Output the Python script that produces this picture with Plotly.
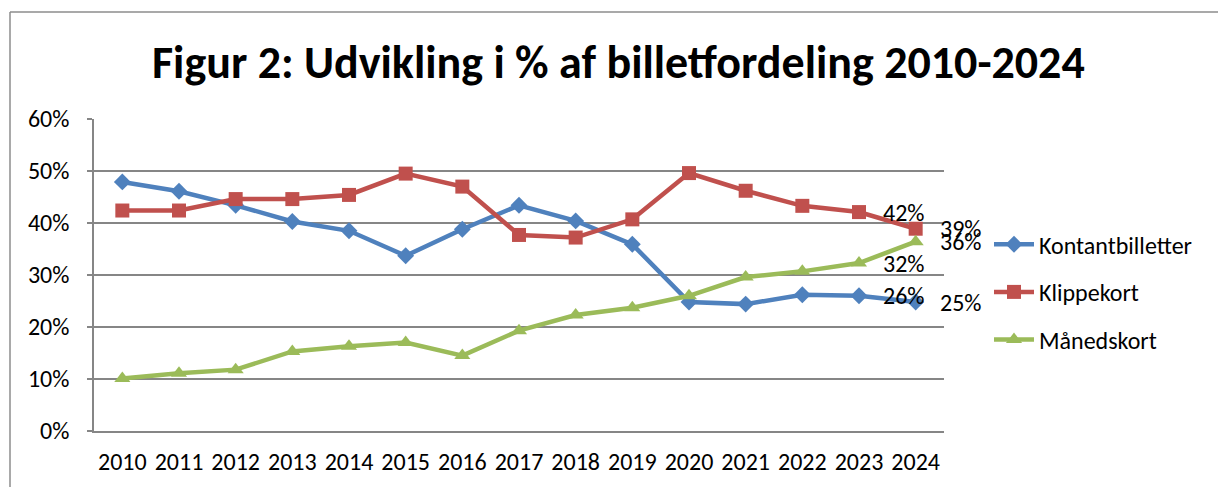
import plotly.graph_objects as go

years = [str(y) for y in range(2010, 2025)]
kontant = [47.9, 46.1, 43.4, 40.3, 38.5, 33.7, 38.8, 43.4, 40.4, 35.9, 24.8, 24.4, 26.2, 26.0, 24.8]
klippe = [42.4, 42.4, 44.6, 44.6, 45.4, 49.5, 47.0, 37.7, 37.2, 40.7, 49.6, 46.2, 43.3, 42.1, 38.9]
maaned = [10.1, 11.1, 11.8, 15.3, 16.3, 17.0, 14.5, 19.3, 22.3, 23.7, 26.0, 29.6, 30.7, 32.3, 36.4]
labels_kontant = ["26%", "25%"]
labels_klippe = ["42%", "39%"]
labels_maaned = ["32%", "36%"]
yticks = [0, 10, 20, 30, 40, 50, 60]
ytick_text = ["0%", "10%", "20%", "30%", "40%", "50%", "60%"]

FONT = "Carlito, Calibri, Lato, sans-serif"
series = [
    ("Kontantbilletter", kontant, "#4F81BD", "diamond", 13, labels_kontant),
    ("Klippekort", klippe, "#C0504D", "square", 14, labels_klippe),
    ("Månedskort", maaned, "#9BBB59", "triangle-up", 14, labels_maaned),
]

fig = go.Figure()
annotations = []
for i, (name, vals, color, sym, msize, labs) in enumerate(series):
    fig.add_trace(go.Scatter(
        x=years, y=vals, name=name, mode="lines+markers",
        line=dict(color=color, width=4.5),
        marker=dict(symbol=sym, size=msize, color=color),
        legendgroup=f"g{i}",
    ))
    for k in range(len(years) - 2, len(years)):
        annotations.append(dict(
            x=k, y=vals[k], text=labs[k - (len(years) - 2)], showarrow=False,
            xanchor="left", yanchor="middle", xshift=22,
            font=dict(family=FONT, size=24, color="#000000"),
        ))

annotations.append(dict(
    text="<b>Figur 2: Udvikling i % af billetfordeling 2010-2024</b>",
    xref="paper", yref="paper", x=(618 - 94) / 850, y=(430.7 - 62) / 311.7,
    xanchor="center", yanchor="middle", showarrow=False,
    font=dict(family=FONT, size=46, color="#000000"),
))

fig.update_layout(
    width=1218, height=487,
    margin=dict(l=94, r=274, t=119, b=56, autoexpand=False),
    paper_bgcolor="white", plot_bgcolor="white",
    font=dict(family=FONT, size=24, color="#000000"),
    annotations=annotations,
    showlegend=True,
    legend=dict(
        x=(989 - 94) / 850, y=(430.7 - 222) / 311.7, xanchor="left", yanchor="top",
        font=dict(family=FONT, size=24, color="#000000"),
        tracegroupgap=13.5, itemwidth=40, bgcolor="rgba(0,0,0,0)",
    ),
    shapes=[
        dict(type="line", xref="paper", yref="paper",
             x0=(10 - 94) / 850, x1=(1230 - 94) / 850,
             y0=(430.7 - 12) / 311.7, y1=(430.7 - 12) / 311.7,
             line=dict(color="#8c8c8c", width=1.5)),
        dict(type="line", xref="paper", yref="paper",
             x0=(10 - 94) / 850, x1=(10 - 94) / 850,
             y0=(430.7 - 12) / 311.7, y1=(430.7 - 500) / 311.7,
             line=dict(color="#8c8c8c", width=1.5)),
    ],
)
fig.update_xaxes(
    type="category", range=[-0.5, len(years) - 0.5], automargin=False,
    showgrid=False, showline=True, linecolor="#868686", linewidth=1.5,
    ticks="", tickfont=dict(family=FONT, size=24, color="#000000"), ticklabelstandoff=8,
)
fig.update_yaxes(
    range=[0, 60], tickvals=yticks, ticktext=ytick_text, automargin=False,
    showgrid=True, gridcolor="#868686", gridwidth=1.5,
    showline=True, linecolor="#868686", linewidth=1.5,
    ticks="outside", ticklen=5, tickcolor="#868686", tickwidth=1.5,
    tickfont=dict(family=FONT, size=24, color="#000000"), ticklabelstandoff=13,
    zeroline=False,
)
fig.write_html("out.html")
